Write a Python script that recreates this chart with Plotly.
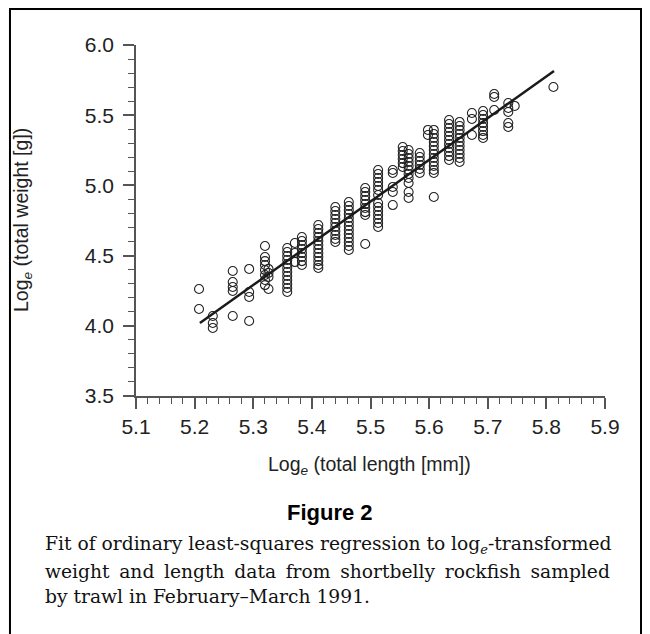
import plotly.graph_objects as go

# Column x positions (log_e total length) and the log_e weights in each column
length_cols = [5.2075, 5.231, 5.265, 5.293, 5.320, 5.326, 5.358, 5.371, 5.383, 5.411,
               5.440, 5.463, 5.491, 5.513, 5.538, 5.555, 5.565, 5.584, 5.598, 5.608,
               5.634, 5.652, 5.673, 5.692, 5.711, 5.735, 5.746, 5.812]
weight_cols = [
    [4.262, 4.120],
    [4.070, 4.020, 3.984],
    [4.390, 4.312, 4.276, 4.248, 4.070],
    [4.405, 4.241, 4.205, 4.034],
    [4.568, 4.490, 4.461, 4.433, 4.397, 4.362, 4.326, 4.290],
    [4.405, 4.376, 4.348, 4.262],
    [4.554, 4.526, 4.497, 4.469, 4.440, 4.412, 4.383, 4.355, 4.326, 4.298, 4.269, 4.241],
    [4.590, 4.518, 4.454],
    [4.632, 4.604, 4.575, 4.547, 4.518, 4.490, 4.461, 4.433],
    [4.718, 4.689, 4.661, 4.632, 4.604, 4.575, 4.547, 4.518, 4.490, 4.461, 4.433, 4.412],
    [4.846, 4.818, 4.789, 4.761, 4.732, 4.704, 4.675, 4.647, 4.618, 4.597],
    [4.882, 4.853, 4.825, 4.796, 4.768, 4.739, 4.711, 4.682, 4.654, 4.625, 4.597, 4.568, 4.540],
    [4.981, 4.953, 4.924, 4.896, 4.867, 4.839, 4.810, 4.789, 4.583],
    [5.110, 5.081, 5.053, 5.024, 4.996, 4.967, 4.932, 4.875, 4.846, 4.818, 4.789, 4.761, 4.732, 4.704],
    [5.110, 5.088, 4.989, 4.953, 4.860],
    [5.273, 5.245, 5.216, 5.188, 5.159, 5.131],
    [5.252, 5.224, 5.195, 5.167, 5.138, 5.110, 5.081, 5.053, 5.017, 4.953, 4.910],
    [5.231, 5.202, 5.174, 5.145, 5.117, 5.088],
    [5.395, 5.359],
    [5.395, 5.366, 5.338, 5.309, 5.281, 5.252, 5.224, 5.195, 5.167, 5.138, 5.110, 5.088, 4.917],
    [5.466, 5.437, 5.409, 5.380, 5.352, 5.323, 5.295, 5.266, 5.238, 5.209, 5.181],
    [5.452, 5.423, 5.395, 5.366, 5.338, 5.309, 5.281, 5.252, 5.224, 5.195, 5.167],
    [5.516, 5.473, 5.359],
    [5.530, 5.501, 5.473, 5.444, 5.416, 5.387, 5.359, 5.338],
    [5.651, 5.630, 5.537],
    [5.587, 5.551, 5.523, 5.444, 5.416],
    [5.566],
    [5.701],
]

# Fitted regression line end points
fit_x = [5.209, 5.813]
fit_y = [4.020, 5.815]

x_ticks = [5.1, 5.2, 5.3, 5.4, 5.5, 5.6, 5.7, 5.8, 5.9]
y_ticks = [3.5, 4.0, 4.5, 5.0, 5.5, 6.0]

xs, ys = [], []
for xv, col in zip(length_cols, weight_cols):
    for yv in col:
        xs.append(xv)
        ys.append(yv)

fig = go.Figure()
fig.add_trace(go.Scatter(
    x=xs, y=ys, mode="markers",
    marker=dict(symbol="circle-open", size=9, color="#222222", line=dict(width=1.1, color="#222222")),
    showlegend=False, cliponaxis=False))
fig.add_trace(go.Scatter(
    x=fit_x, y=fit_y, mode="lines",
    line=dict(color="#1a1a1a", width=2.5), showlegend=False))

sans = "Liberation Sans, Arial, sans-serif"
serif = "DejaVu Serif, Liberation Serif, serif"

axis_common = dict(showline=True, linecolor="#555555", linewidth=1.5, ticks="outside",
                   tickcolor="#555555", tickwidth=1.5, ticklen=11, showgrid=False, zeroline=False,
                   tickfont=dict(family=sans, size=21, color="#222222"))

# Page has an 8 px body margin, so the figure is 642x626 to fit the 650x634 window
fig.update_layout(
    width=642, height=626, autosize=False,
    margin=dict(l=128, r=45, t=37, b=238),
    paper_bgcolor="white", plot_bgcolor="white",
    xaxis=dict(range=[5.1, 5.9], tickvals=x_ticks, ticktext=[f"{v:.1f}" for v in x_ticks],
               minor=dict(dtick=0.02, tick0=5.1, ticks="outside", ticklen=6, tickcolor="#555555", tickwidth=1.2),
               **axis_common),
    yaxis=dict(range=[3.5, 6.0], tickvals=y_ticks, ticktext=[f"{v:.1f}" for v in y_ticks],
               ticklabelstandoff=5,
               minor=dict(dtick=0.1, tick0=3.5, ticks="outside", ticklen=6, tickcolor="#555555", tickwidth=1.2),
               **axis_common),
)

fig.add_annotation(text="Log<sub><i>e</i></sub> (total weight [g])", xref="paper", yref="paper",
                   x=-0.2431, y=0.5014, textangle=-90, showarrow=False,
                   xanchor="center", yanchor="middle",
                   font=dict(family=sans, size=19.5, color="#222222"))
fig.add_annotation(text="Log<sub><i>e</i></sub> (total length [mm])", xref="paper", yref="paper",
                   x=0.4989, y=-0.1994, showarrow=False, xanchor="center", yanchor="middle",
                   font=dict(family=sans, size=19.5, color="#222222"))
fig.add_annotation(text="<b>Figure 2</b>", xref="paper", yref="paper",
                   x=0.4136, y=-0.3333, showarrow=False, xanchor="center", yanchor="middle",
                   font=dict(family=sans, size=22, color="#000000"))

ts = " \u2009"
caption = [
    "Fit of ordinary least-squares regression to log<sub><i>e</i></sub>-transformed",
    ts.join("weight and length data from shortbelly rockfish sampled".split(" ")),
    "by trawl in February\u2013March 1991.",
]
cap_y = [-0.4245, -0.4986, -0.5726]
for line, yv in zip(caption, cap_y):
    fig.add_annotation(text=line, xref="paper", yref="paper", x=-0.1983, y=yv,
                       xanchor="left", yanchor="middle", showarrow=False,
                       font=dict(family=serif, size=18.7, color="#111111"))

fig.add_shape(type="rect", xref="paper", yref="paper", x0=-0.2687, x1=1.0768, y0=-0.72, y1=1.1026,
              line=dict(color="black", width=2), fillcolor="rgba(0,0,0,0)", layer="above")

fig.write_html("out.html")
